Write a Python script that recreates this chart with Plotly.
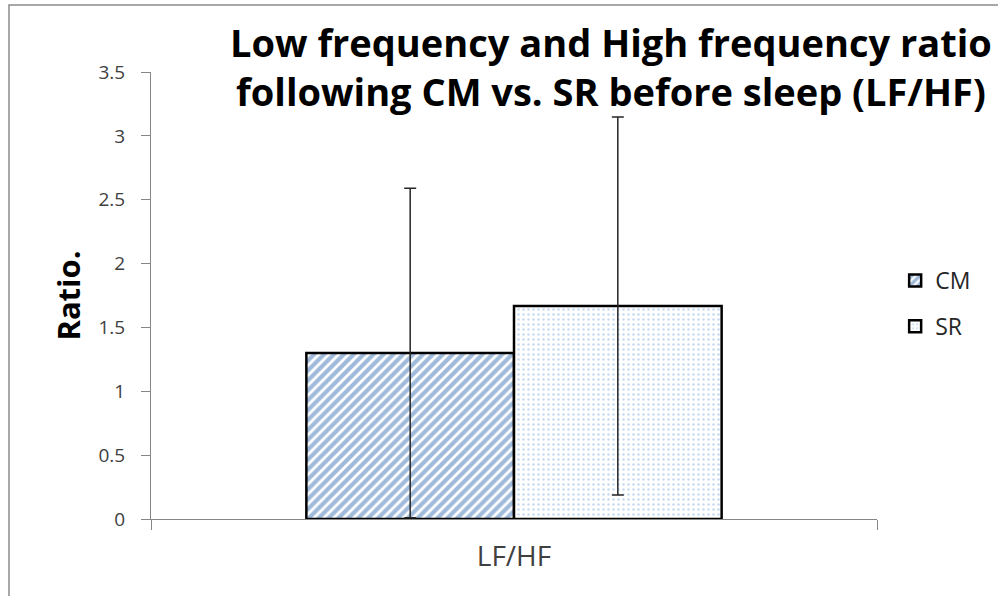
import plotly.graph_objects as go

categories = ["LF/HF"]
series_names = ["CM", "SR"]
cm_values = [1.30]
sr_values = [1.668]
cm_errors = [1.29]
sr_errors = [1.48]
title_lines = ["Low frequency and High frequency ratio",
               "following CM vs. SR before sleep (LF/HF)"]

FONT = "Open Sans"
TICK_COLOR = "#404040"

fig = go.Figure()
fig.add_trace(go.Bar(
    name=series_names[0], x=categories, y=cm_values, legendgroup="a",
    error_y=dict(type="data", array=cm_errors, visible=True,
                 color="#262626", thickness=1.5, width=6),
    marker=dict(color="white", line=dict(color="black", width=2.5),
                pattern=dict(shape="/", fgcolor="#3F75B5", bgcolor="white",
                             size=7, solidity=0.6, fillmode="overlay")),
))
fig.add_trace(go.Bar(
    name=series_names[1], x=categories, y=sr_values, legendgroup="b",
    error_y=dict(type="data", array=sr_errors, visible=True,
                 color="#262626", thickness=1.5, width=6),
    marker=dict(color="white", line=dict(color="black", width=2.5),
                pattern=dict(shape=".", fgcolor="#8EB4E3", bgcolor="white",
                             size=5, solidity=0.2, fillmode="overlay")),
))

# outer chart frame
fig.add_shape(type="rect", xref="paper", yref="paper",
              x0=-0.1956, x1=1.3, y0=-0.3, y1=1.150,
              line=dict(color="#8C8C8C", width=1.5), fillcolor="rgba(0,0,0,0)",
              layer="below")

# two-line chart title
fig.add_annotation(
    text="<br>".join(title_lines), xref="paper", yref="paper",
    x=(611 - 151) / 726, y=(519 - 66) / 447, xanchor="center", yanchor="middle",
    showarrow=False, align="center",
    font=dict(family=FONT, size=38, color="black", weight="bold"),
)

fig.update_layout(
    width=998, height=596,
    margin=dict(l=151, r=121, t=72, b=77),
    paper_bgcolor="white", plot_bgcolor="white",
    barmode="group", bargap=0.428, bargroupgap=0,
    showlegend=True,
    legend=dict(x=1.025, y=(519 - 259) / 447, xanchor="left", yanchor="top",
                font=dict(family=FONT, size=23, color="#262626"),
                bgcolor="rgba(0,0,0,0)", itemwidth=30, tracegroupgap=13,
                traceorder="grouped"),
    xaxis=dict(
        type="category", showline=True, linecolor="#868686", linewidth=1,
        ticks="outside", tickson="boundaries", ticklen=10, tickcolor="#868686",
        ticklabelstandoff=12,
        tickfont=dict(family=FONT, size=28, color=TICK_COLOR),
        showgrid=False, zeroline=False,
    ),
    yaxis=dict(
        range=[0, 3.5], dtick=0.5, showline=True, linecolor="#868686", linewidth=1,
        ticks="outside", ticklen=9, tickcolor="#868686", ticklabelstandoff=12,
        tickfont=dict(family=FONT, size=19, color=TICK_COLOR),
        showgrid=False, zeroline=False,
        title=dict(text="Ratio.", font=dict(family=FONT, size=31, color="black", weight="bold"),
                   standoff=8),
    ),
)

fig.write_html("out.html")
